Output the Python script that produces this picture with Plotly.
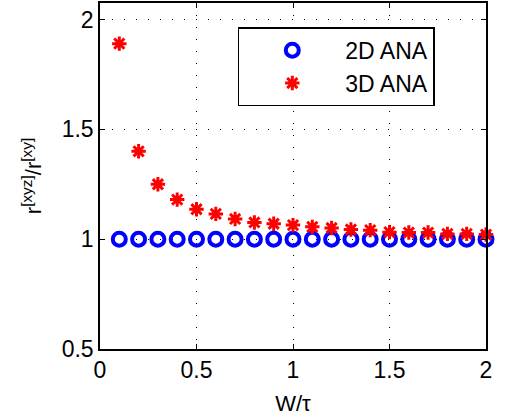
import plotly.graph_objects as go

x_vals = [0.1, 0.2, 0.3, 0.4, 0.5, 0.6, 0.7, 0.8, 0.9, 1.0,
          1.1, 1.2, 1.3, 1.4, 1.5, 1.6, 1.7, 1.8, 1.9, 2.0]
ana2d = [1.0] * 20
ana3d = [1.89, 1.40, 1.25, 1.18, 1.136, 1.115, 1.092, 1.076, 1.07, 1.064,
         1.056, 1.051, 1.044, 1.041, 1.032, 1.030, 1.030, 1.024, 1.024, 1.021]
x_ticks = [0, 0.5, 1, 1.5, 2]
x_tick_labels = ["0", "0.5", "1", "1.5", "2"]
y_ticks = [0.5, 1, 1.5, 2]
y_tick_labels = ["0.5", "1", "1.5", "2"]

FONT = "Liberation Sans, Arial, Helvetica, sans-serif"

fig = go.Figure()
fig.add_trace(go.Scatter(
    x=x_vals, y=ana2d, mode="markers", name="2D ANA", cliponaxis=False,
    marker=dict(symbol="circle-open", size=13, color="#0000ff",
                line=dict(width=4, color="#0000ff")),
))
fig.add_trace(go.Scatter(
    x=x_vals, y=ana3d, mode="markers", name="3D ANA", cliponaxis=False,
    marker=dict(symbol="asterisk-open", size=12, color="#ff0000",
                line=dict(width=3, color="#ff0000")),
))

axis_common = dict(
    showline=True, linecolor="black", linewidth=1.5, mirror="ticks",
    ticks="inside", ticklen=5, tickwidth=1, tickcolor="black",
    showgrid=True, gridcolor="black", griddash="1px,11px", gridwidth=1,
    zeroline=False, automargin=False,
    tickfont=dict(family=FONT, size=23, color="black"),
)

fig.update_layout(
    width=505, height=417,
    margin=dict(l=100, r=19, t=3, b=68),
    paper_bgcolor="white", plot_bgcolor="white",
    font=dict(family=FONT, color="black"),
    xaxis=dict(range=[0, 2], tickvals=x_ticks, ticktext=x_tick_labels,
               title=dict(text="W/τ", font=dict(family=FONT, size=22), standoff=13),
               **axis_common),
    yaxis=dict(range=[0.5, 2.075], tickvals=y_ticks, ticktext=y_tick_labels,
               title=dict(text="r<sup>[xyz]</sup>/r<sup>[xy]</sup>",
                          font=dict(family=FONT, size=22), standoff=14),
               **axis_common),
    legend=dict(x=0.357, y=0.93, xanchor="left", yanchor="top",
                bgcolor="white", bordercolor="black", borderwidth=1.5,
                font=dict(family=FONT, size=23, color="black"),
                itemwidth=96, tracegroupgap=0),
    showlegend=True,
)

fig.write_html("out.html", config={"displayModeBar": False},
               post_script="document.body.style.margin='0';")
